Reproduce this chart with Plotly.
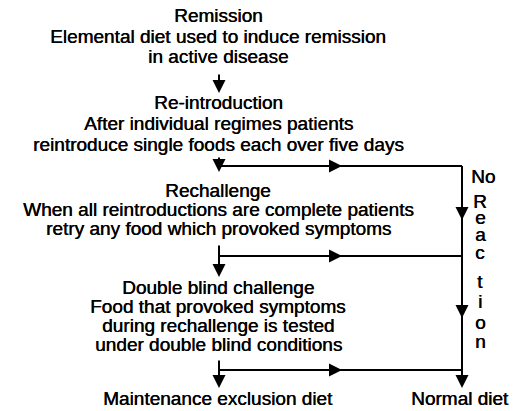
import plotly.graph_objects as go

# ---- content ----
block1 = ["Remission", "Elemental diet used to induce remission", "in active disease"]
block2 = ["Re-introduction", "After individual regimes patients",
          "reintroduce single foods each over five days"]
block3 = ["Rechallenge", "When all reintroductions are complete patients",
          "retry any food which provoked symptoms"]
block4 = ["Double blind challenge", "Food that provoked symptoms",
          "during rechallenge is tested", "under double blind conditions"]
outcome_left = "Maintenance exclusion diet"
outcome_right = "Normal diet"
side_top = "No"
side_letters = list("Reaction")

# ---- layout constants ----
W, H = 531, 411
CX = 218          # centre of the text column
LX = 219          # left flow line
RX = 462          # right flow line
FONT = dict(family="Liberation Sans, Arial, sans-serif", size=19, color="black",
            shadow="0.45px 0px 0px black")
LW = 2

block_y = [[15, 36, 56], [102, 123, 144], [190, 209, 228], [287, 306, 325, 344]]
blocks = [block1, block2, block3, block4]
branch_y = [166, 256, 370]          # horizontal branch lines
branch_top = [156, 244, 359]        # top of short left stubs
branch_tip = [172, 277, 388]        # left arrow tips
right_tips = [220, 318, 388]
letter_y = [201, 217, 234, 252, 281, 301, 322, 341]

fig = go.Figure()
ann = []
shapes = []

def text(x, y, s, **kw):
    ann.append(dict(x=x, y=y, xref="x", yref="y", text=s, showarrow=False,
                    font=FONT, xanchor=kw.get("xanchor", "center"), yanchor="middle"))

def arrow(x0, y0, x1, y1):
    ann.append(dict(x=x1, y=y1, ax=x0, ay=y0, xref="x", yref="y", axref="x", ayref="y",
                    text="", showarrow=True, arrowhead=2, arrowsize=1.3,
                    arrowwidth=LW, arrowcolor="black", standoff=0, startstandoff=0))

def line(x0, y0, x1, y1):
    shapes.append(dict(type="line", x0=x0, y0=y0, x1=x1, y1=y1, xref="x", yref="y",
                       line=dict(color="black", width=LW)))

for blk, ys in zip(blocks, block_y):
    for s, y in zip(blk, ys):
        text(CX, y, s)

# top arrow
arrow(LX, 73, LX, 93)

# branches
for by, bt, tip in zip(branch_y, branch_top, branch_tip):
    arrow(LX, bt, LX, tip)
    line(LX, by, RX, by)
    arrow(318, by, 342, by)

# right line
line(RX, branch_y[0], RX, right_tips[-1] - 4)
for t in right_tips:
    arrow(RX, t - 20, RX, t)

text(483, 176, side_top)
for ch, y in zip(side_letters, letter_y):
    text(480, y, ch)

text(CX, 398, outcome_left)
text(460, 398, outcome_right)

fig.update_layout(
    width=W, height=H, margin=dict(l=0, r=0, t=0, b=0),
    paper_bgcolor="white", plot_bgcolor="white",
    xaxis=dict(range=[0, W], visible=False, fixedrange=True),
    yaxis=dict(range=[H, 0], visible=False, fixedrange=True),
    annotations=ann, shapes=shapes, showlegend=False,
)
fig.write_html("out.html", config={"displayModeBar": False},
               post_script="document.body.style.margin='0';document.body.style.overflow='hidden';")
